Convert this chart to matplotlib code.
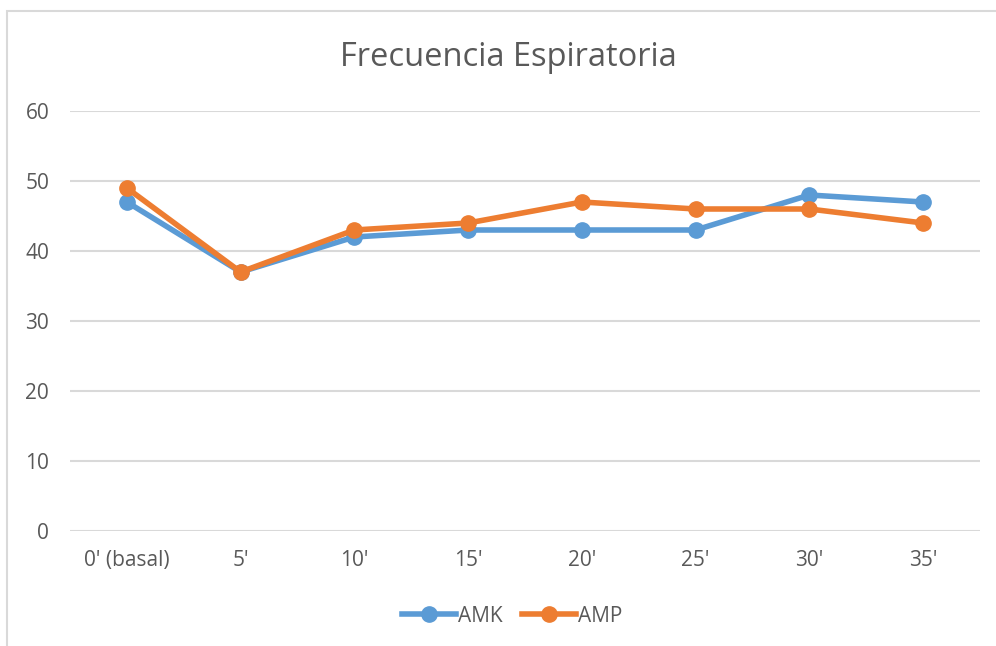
import matplotlib
matplotlib.use("Agg")
import matplotlib.pyplot as plt
from matplotlib.patches import Rectangle

categories = ["0' (basal)", "5'", "10'", "15'", "20'", "25'", "30'", "35'"]
amk = [47, 37, 42, 43, 43, 43, 48, 47]
amp = [49, 37, 43, 44, 47, 46, 46, 44]
yticks = [0, 10, 20, 30, 40, 50, 60]

plt.rcParams['font.family'] = ['Open Sans', 'DejaVu Sans']

W, H = 996, 646
fig = plt.figure(figsize=(W/100, H/100), dpi=100)
fig.patch.set_facecolor('white')

# outer chart border
fig.add_artist(Rectangle((7/W, -0.1), 1.2, 1 - 11/H + 0.1, transform=fig.transFigure,
                         fill=False, edgecolor='#D9D9D9', linewidth=1.5, clip_on=False))

ax = fig.add_axes([70/W, 1 - 531/H, 910/W, 420/H])
x = list(range(len(categories)))
ax.plot(x, amk, color='#5B9BD5', linewidth=4, marker='o', markersize=11, label='AMK', zorder=3)
ax.plot(x, amp, color='#ED7D31', linewidth=4, marker='o', markersize=11, label='AMP', zorder=4)

ax.set_xlim(-0.5, len(categories) - 0.5)
ax.set_ylim(0, 60)
ax.set_yticks(yticks)
ax.set_xticks(x)
ax.set_xticklabels(categories)
ax.grid(axis='y', color='#D9D9D9', linewidth=1.5)
ax.set_axisbelow(True)
for s in ax.spines.values():
    s.set_visible(False)
ax.tick_params(axis='both', length=0, labelsize=15, labelcolor='#595959')
ax.tick_params(axis='x', pad=14)
ax.tick_params(axis='y', pad=15)

fig.text(508/W, 1 - 57/H, 'Frecuencia Espiratoria', ha='center', va='center',
         fontsize=23.5, color='#595959')

leg = fig.legend(loc='center', bbox_to_anchor=(512/W, 1 - 616/H), ncol=2, frameon=False,
                 fontsize=15, handlelength=2.6, columnspacing=0.9, handletextpad=0.1)
for t in leg.get_texts():
    t.set_color('#595959')

fig.savefig('out.png', dpi=100, facecolor='white')
